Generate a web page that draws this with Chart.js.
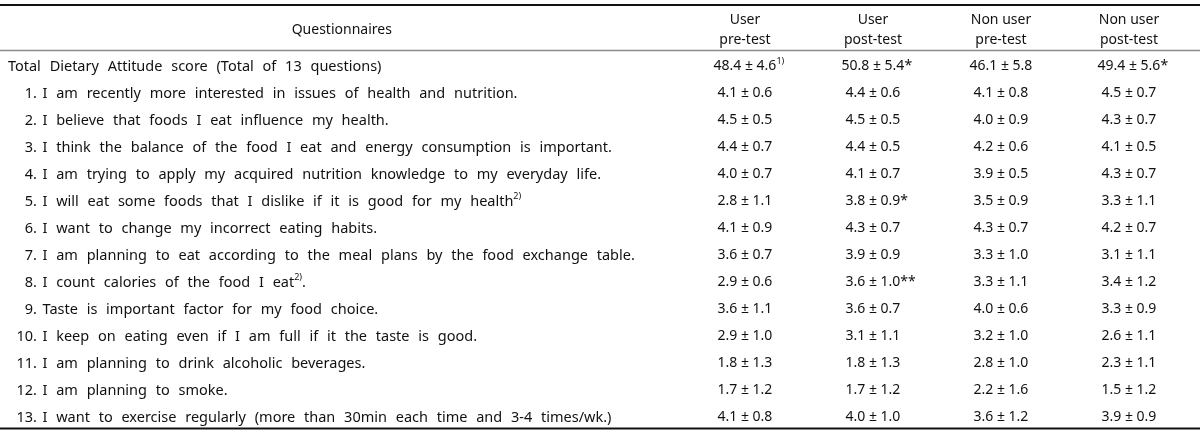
<!DOCTYPE html>
<html>
<head>
<meta charset="utf-8">
<script src="https://cdn.jsdelivr.net/npm/chart.js@4"></script>
<style>
  html, body { margin: 0; padding: 0; background: #ffffff; }
  #wrap { width: 1200px; height: 435px; }
</style>
</head>
<body>
<div id="wrap"><canvas id="c" width="1200" height="435"></canvas></div>
<script>
// ---------- data ----------
const columnHeaders = [["User", "pre-test"], ["User", "post-test"], ["Non user", "pre-test"], ["Non user", "post-test"]];
const firstHeader = "Questionnaires";
const rowNumbers = ["", "1.", "2.", "3.", "4.", "5.", "6.", "7.", "8.", "9.", "10.", "11.", "12.", "13."];
// {..} marks superscript text
const rowLabels = [
  "Total Dietary Attitude score (Total of 13 questions)",
  "I am recently more interested in issues of health and nutrition.",
  "I believe that foods I eat influence my health.",
  "I think the balance of the food I eat and energy consumption is important.",
  "I am trying to apply my acquired nutrition knowledge to my everyday life.",
  "I will eat some foods that I dislike if it is good for my health{2)}",
  "I want to change my incorrect eating habits.",
  "I am planning to eat according to the meal plans by the food exchange table.",
  "I count calories of the food I eat{2)}.",
  "Taste is important factor for my food choice.",
  "I keep on eating even if I am full if it the taste is good.",
  "I am planning to drink alcoholic beverages.",
  "I am planning to smoke.",
  "I want to exercise regularly (more than 30min each time and 3-4 times/wk.)"
];
const userPreMean  = [48.4, 4.1, 4.5, 4.4, 4.0, 2.8, 4.1, 3.6, 2.9, 3.6, 2.9, 1.8, 1.7, 4.1];
const userPreSD    = [4.6, 0.6, 0.5, 0.7, 0.7, 1.1, 0.9, 0.7, 0.6, 1.1, 1.0, 1.3, 1.2, 0.8];
const userPostMean = [50.8, 4.4, 4.5, 4.4, 4.1, 3.8, 4.3, 3.9, 3.6, 3.6, 3.1, 1.8, 1.7, 4.0];
const userPostSD   = [5.4, 0.6, 0.5, 0.5, 0.7, 0.9, 0.7, 0.9, 1.0, 0.7, 1.1, 1.3, 1.2, 1.0];
const nonPreMean   = [46.1, 4.1, 4.0, 4.2, 3.9, 3.5, 4.3, 3.3, 3.3, 4.0, 3.2, 2.8, 2.2, 3.6];
const nonPreSD     = [5.8, 0.8, 0.9, 0.6, 0.5, 0.9, 0.7, 1.0, 1.1, 0.6, 1.0, 1.0, 1.6, 1.2];
const nonPostMean  = [49.4, 4.5, 4.3, 4.1, 4.3, 3.3, 4.2, 3.1, 3.4, 3.3, 2.6, 2.3, 1.5, 3.9];
const nonPostSD    = [5.6, 0.7, 0.7, 0.5, 0.7, 1.1, 0.7, 1.1, 1.2, 0.9, 1.1, 1.1, 1.2, 0.9];
const userPreMarks  = ["{1)}", "", "", "", "", "", "", "", "", "", "", "", "", ""];
const userPostMarks = ["*", "", "", "", "", "*", "", "", "**", "", "", "", "", ""];
const nonPreMarks   = ["", "", "", "", "", "", "", "", "", "", "", "", "", ""];
const nonPostMarks  = ["*", "", "", "", "", "", "", "", "", "", "", "", "", ""];

const means = [userPreMean, userPostMean, nonPreMean, nonPostMean];
const sds = [userPreSD, userPostSD, nonPreSD, nonPostSD];
const marks = [userPreMarks, userPostMarks, nonPreMarks, nonPostMarks];

// ---------- layout (styles, in scale units) ----------
const X_MIN = -5.82, X_MAX = 3.555;          // column index scale
const Y_MIN = -2.463, Y_MAX = 13.648;        // row index scale (reversed)
const LABEL_X = -5.758, NUMBER_RIGHT_X = -5.531, TEXT_X = -5.488;
const HEADER_X = -3.15;
const HEAD_LINE1 = -1.722, HEAD_LINE2 = -0.981, HEAD_MID = -1.352;
const RULE_TOP = -2.278, RULE_HEAD = -0.593, RULE_BOTTOM = 13.407;
const FONT = '"Noto Sans", "Open Sans", sans-serif';
const FS = 14, LFS = 14.5, SUPFS = 9;
const INK = '#111111';

function drawRich(ctx, str, x, y, align, size) {
  const fs = size || FS;
  const parts = [];
  const re = /\{([^}]*)\}/g;
  let last = 0, m;
  while ((m = re.exec(str)) !== null) {
    if (m.index > last) parts.push({ t: str.slice(last, m.index), sup: false });
    parts.push({ t: m[1], sup: true });
    last = re.lastIndex;
  }
  if (last < str.length) parts.push({ t: str.slice(last), sup: false });
  let total = 0;
  parts.forEach(p => {
    ctx.font = (p.sup ? SUPFS : fs) + 'px ' + FONT;
    p.w = ctx.measureText(p.t).width;
    total += p.w;
  });
  let cx = align === 'center' ? x - total / 2 : (align === 'right' ? x - total : x);
  ctx.textAlign = 'left';
  ctx.textBaseline = 'middle';
  parts.forEach(p => {
    ctx.font = (p.sup ? SUPFS : fs) + 'px ' + FONT;
    ctx.fillText(p.t, cx, p.sup ? y - 5 : y);
    cx += p.w;
  });
}

const tablePlugin = {
  id: 'tablePlugin',
  afterDatasetsDraw(chart) {
    const ctx = chart.ctx;
    const xs = chart.scales.x, ys = chart.scales.y;
    ctx.save();
    ctx.fillStyle = INK;
    const rule = (yv, w, col) => {
      const py = ys.getPixelForValue(yv);
      ctx.strokeStyle = col; ctx.lineWidth = w;
      ctx.beginPath();
      ctx.moveTo(xs.getPixelForValue(X_MIN), py);
      ctx.lineTo(xs.getPixelForValue(X_MAX), py);
      ctx.stroke();
    };
    rule(RULE_TOP, 2, '#111');
    rule(RULE_HEAD, 1.5, '#8a8a8a');
    rule(RULE_BOTTOM, 2, '#111');
    // header
    ctx.font = FS + 'px ' + FONT;
    ctx.textBaseline = 'middle';
    ctx.textAlign = 'center';
    ctx.fillText(firstHeader, xs.getPixelForValue(HEADER_X), ys.getPixelForValue(HEAD_MID));
    columnHeaders.forEach((h, c) => {
      const px = xs.getPixelForValue(c);
      ctx.fillText(h[0], px, ys.getPixelForValue(HEAD_LINE1));
      ctx.fillText(h[1], px, ys.getPixelForValue(HEAD_LINE2));
    });
    // row labels
    ctx.wordSpacing = '5px';
    rowLabels.forEach((lab, r) => {
      const py = ys.getPixelForValue(r);
      if (rowNumbers[r] === '') {
        drawRich(ctx, lab, xs.getPixelForValue(LABEL_X), py, 'left', LFS);
      } else {
        drawRich(ctx, rowNumbers[r], xs.getPixelForValue(NUMBER_RIGHT_X), py, 'right', LFS);
        drawRich(ctx, lab, xs.getPixelForValue(TEXT_X), py, 'left', LFS);
      }
    });
    ctx.wordSpacing = '0px';
    // values, at the dataset points
    chart.data.datasets.forEach((ds, di) => {
      const meta = chart.getDatasetMeta(di);
      meta.data.forEach((pt, i) => {
        const txt = means[di][i].toFixed(1) + ' ± ' + sds[di][i].toFixed(1);
        const mk = marks[di][i];
        ctx.font = FS + 'px ' + FONT;
        const w = ctx.measureText(txt).width;
        const x0 = pt.x - w / 2;
        drawRich(ctx, txt, x0, pt.y, 'left');
        if (mk) drawRich(ctx, mk, x0 + w, pt.y, 'left');
      });
    });
    ctx.restore();
  }
};

const datasets = means.map((arr, c) => ({
  label: columnHeaders[c].join(' '),
  data: arr.map((v, r) => ({ x: c, y: r })),
  pointRadius: 0,
  pointHoverRadius: 0,
  showLine: false
}));

new Chart(document.getElementById('c'), {
  type: 'scatter',
  data: { datasets },
  options: {
    responsive: false,
    animation: false,
    devicePixelRatio: 1,
    layout: { padding: 0 },
    plugins: { legend: { display: false }, tooltip: { enabled: false } },
    events: [],
    scales: {
      x: { type: 'linear', min: X_MIN, max: X_MAX, display: false },
      y: { type: 'linear', min: Y_MIN, max: Y_MAX, reverse: true, display: false }
    }
  },
  plugins: [tablePlugin]
});
</script>
</body>
</html>
